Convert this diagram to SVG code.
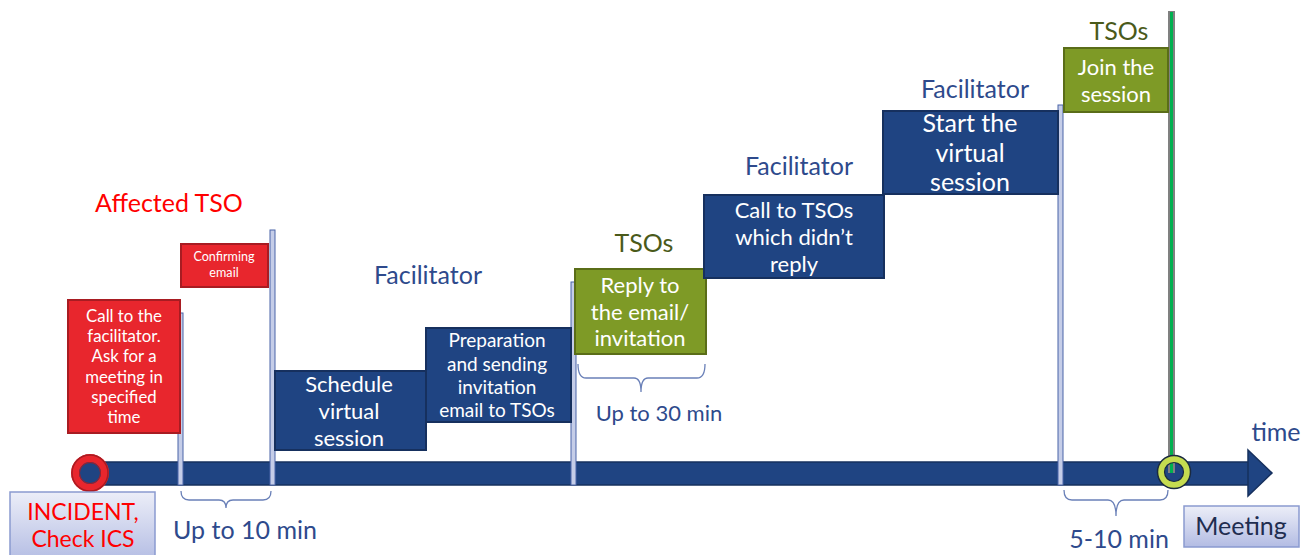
<svg xmlns="http://www.w3.org/2000/svg" width="1315" height="555" viewBox="0 0 1315 555">
<defs>
<linearGradient id="lg" x1="0" y1="0" x2="0" y2="1">
<stop offset="0" stop-color="#eceef8"/><stop offset="1" stop-color="#b3bce3"/>
</linearGradient>
</defs>
<style>
text{font-family:Lato,"Noto Sans","Liberation Sans",sans-serif;text-anchor:middle}
.blue{fill:#1f4482;stroke:#16305e;stroke-width:2}
.red{fill:#e8262d;stroke:#a81c22;stroke-width:2}
.green{fill:#7e9a26;stroke:#5a6d18;stroke-width:2}
.mk{fill:#c5cde8;stroke:#4a64a8;stroke-width:1}
.w{fill:#fff}
.lbl{fill:#2e4a8c;font-size:25px}
.tso{fill:#4a5a1a;font-size:25px}
.br{fill:none;stroke:#6a80b8;stroke-width:1.3}
.gb{fill:url(#lg);stroke:#8a9ad0;stroke-width:1.5}
</style>
<g id="timeline">
<rect x="95" y="462" width="1155" height="23" fill="#1f4482" stroke="#16305e" stroke-width="1.5"/>
<polygon points="1248,450 1272,473 1248,496" fill="#1f4482" stroke="#16305e" stroke-width="1.5"/>
</g>
<g id="markers">
<rect class="mk" x="178" y="313" width="5" height="172"/>
<rect class="mk" x="270" y="230" width="5" height="255"/>
<rect class="mk" x="571" y="282" width="5" height="203"/>
<rect class="mk" x="1058" y="105" width="5" height="380"/>
<line x1="1171.5" y1="11" x2="1171.5" y2="473" stroke="#808080" stroke-width="7"/>
<line x1="1171.5" y1="12" x2="1171.5" y2="473" stroke="#00b050" stroke-width="3"/>
</g>
<g id="start">
<circle cx="90" cy="473" r="15" fill="#1f4482" stroke="#e8262d" stroke-width="8"/>
<circle cx="90" cy="473" r="18" fill="none" stroke="#a81c22" stroke-width="1.5"/>
<circle cx="90" cy="473" r="10.5" fill="none" stroke="#a81c22" stroke-width="1"/>
</g>
<g id="end">
<circle cx="1174" cy="472" r="13" fill="none" stroke="#c5dc50" stroke-width="7"/>
<circle cx="1174" cy="472" r="16.5" fill="none" stroke="#1a2a40" stroke-width="1.5"/>
<circle cx="1174" cy="472" r="9.5" fill="none" stroke="#1a2a40" stroke-width="1.2"/>
</g>
<g id="incident">
<rect class="gb" x="10" y="492" width="145" height="70"/>
<text x="83" y="520" fill="#ff0000" font-size="23">INCIDENT,</text>
<text x="83" y="547" fill="#ff0000" font-size="23">Check ICS</text>
</g>
<g id="affected-label"><text x="169" y="212" fill="#ff0000" font-size="25">Affected TSO</text></g>
<g id="call-facilitator">
<rect class="red" x="68" y="300" width="112" height="133"/>
<text class="w" font-size="16.8"><tspan x="124" y="322">Call to the</tspan><tspan x="124" y="342">facilitator.</tspan><tspan x="124" y="362">Ask for a</tspan><tspan x="124" y="383">meeting in</tspan><tspan x="124" y="403">specified</tspan><tspan x="124" y="423">time</tspan></text>
</g>
<g id="confirming">
<rect class="red" x="181" y="244" width="87" height="43"/>
<text class="w" font-size="12.6"><tspan x="224" y="261">Confirming</tspan><tspan x="224" y="277">email</tspan></text>
</g>
<g id="facilitator-label-1"><text class="lbl" x="428" y="284">Facilitator</text></g>
<g id="schedule">
<rect class="blue" x="275" y="371" width="151" height="79"/>
<text class="w" font-size="22"><tspan x="349" y="392">Schedule</tspan><tspan x="349" y="419">virtual</tspan><tspan x="349" y="446">session</tspan></text>
</g>
<g id="preparation">
<rect class="blue" x="426" y="328" width="145" height="94"/>
<text class="w" font-size="19"><tspan x="497" y="347">Preparation</tspan><tspan x="497" y="371">and sending</tspan><tspan x="497" y="394">invitation</tspan><tspan x="497" y="417">email to TSOs</tspan></text>
</g>
<g id="tsos-label-1"><text class="tso" x="644" y="252">TSOs</text></g>
<g id="reply">
<rect class="green" x="575" y="269" width="131" height="85"/>
<text class="w" font-size="22"><tspan x="640" y="293">Reply to</tspan><tspan x="640" y="320">the email/</tspan><tspan x="640" y="346">invitation</tspan></text>
</g>
<g id="facilitator-label-2"><text class="lbl" x="799" y="175">Facilitator</text></g>
<g id="call-tsos">
<rect class="blue" x="704" y="195" width="180" height="83"/>
<text class="w" font-size="22"><tspan x="794" y="218">Call to TSOs</tspan><tspan x="794" y="245">which didn’t</tspan><tspan x="794" y="272">reply</tspan></text>
</g>
<g id="facilitator-label-3"><text class="lbl" x="975" y="98">Facilitator</text></g>
<g id="start-session">
<rect class="blue" x="883" y="111" width="175" height="83"/>
<text class="w" font-size="25"><tspan x="970" y="132">Start the</tspan><tspan x="970" y="162">virtual</tspan><tspan x="970" y="191">session</tspan></text>
</g>
<g id="tsos-label-2"><text class="tso" x="1119" y="40">TSOs</text></g>
<g id="join">
<rect class="green" x="1064" y="48" width="104" height="64"/>
<text class="w" font-size="22"><tspan x="1116" y="75">Join the</tspan><tspan x="1116" y="102">session</tspan></text>
</g>
<g id="time-label"><text class="lbl" x="1276" y="441">time</text></g>
<g id="meeting">
<rect class="gb" x="1184" y="506" width="115" height="41"/>
<text x="1241" y="535" fill="#1f2d50" font-size="25">Meeting</text>
</g>
<g id="connectors">
<path class="br" d="M181,491 Q181,500 189,500 L219,500 Q226,500 226,508 Q226,500 233,500 L263,500 Q271,500 271,491"/>
<path class="br" d="M578,364 Q578,378 586,378 L634,378 Q641,378 641,392 Q641,378 648,378 L697,378 Q705,378 705,364"/>
<path class="br" d="M1064,490 Q1064,500 1072,500 L1108,500 Q1116,500 1116,516 Q1116,500 1124,500 L1160,500 Q1168,500 1168,490"/>
</g>
<g id="bracket-labels">
<text class="lbl" x="245" y="539">Up to 10 min</text>
<text class="lbl" x="659" y="421" style="font-size:22px">Up to 30 min</text>
<text class="lbl" x="1119" y="548">5-10 min</text>
</g>
</svg>
